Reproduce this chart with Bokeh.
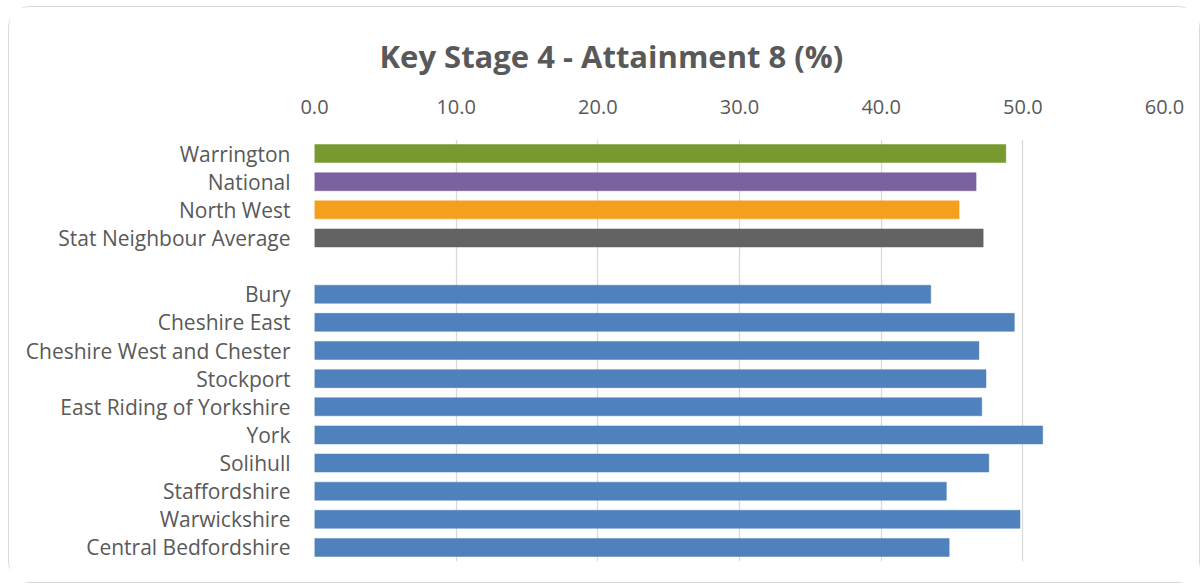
from bokeh.plotting import figure
from bokeh.models import FactorRange, FixedTicker, Title
from bokeh.embed import file_html
from bokeh.resources import INLINE

categories = ["Warrington", "National", "North West", "Stat Neighbour Average", " ",
              "Bury", "Cheshire East", "Cheshire West and Chester", "Stockport",
              "East Riding of Yorkshire", "York", "Solihull", "Staffordshire",
              "Warwickshire", "Central Bedfordshire"]
values = [48.8, 46.7, 45.5, 47.2, None,
          43.5, 49.4, 46.9, 47.4, 47.1, 51.4, 47.6, 44.6, 49.8, 44.8]
colors = ["#77992f", "#7a62a0", "#f5a01d", "#636366", "#ffffff",
          "#4f81bd", "#4f81bd", "#4f81bd", "#4f81bd", "#4f81bd",
          "#4f81bd", "#4f81bd", "#4f81bd", "#4f81bd", "#4f81bd"]
ticks = [0, 10, 20, 30, 40, 50, 60]
tick_labels = {0: "0.0", 10: "10.0", 20: "20.0", 30: "30.0", 40: "40.0", 50: "50.0", 60: "60.0"}

FONT = "Open Sans"

p = figure(width=1192, height=577, output_backend="svg", toolbar_location=None,
           y_range=FactorRange(*reversed(categories), range_padding=0),
           x_range=(0, 60), x_axis_location="above",
           min_border_left=305, min_border_right=37, min_border_top=132, min_border_bottom=23)
p.margin = (6, 0, 0, 8)
p.styles = {"border": "1.5px solid #d9d9d9", "border-radius": "22px"}

cats = [c for c, v in zip(categories, values) if v is not None]
vals = [v for v in values if v is not None]
cols = [c for c, v in zip(colors, values) if v is not None]
p.hbar(y=cats, right=vals, left=0, height=0.64, fill_color=cols,
       line_color=cols, line_alpha=0.5, line_width=1)

p.outline_line_color = None
p.ygrid.grid_line_color = None
p.xgrid.grid_line_color = "#d9d9d9"
p.xgrid.grid_line_width = 1.3
p.xgrid.ticker = FixedTicker(ticks=ticks)

p.xaxis.ticker = FixedTicker(ticks=ticks)
p.xaxis.major_label_overrides = tick_labels
p.xaxis.axis_line_color = None
p.xaxis.major_tick_line_color = None
p.xaxis.minor_tick_line_color = None
p.xaxis.major_label_text_font = FONT
p.xaxis.major_label_text_font_size = "20px"
p.xaxis.major_label_text_color = "#595959"
p.xaxis.major_label_standoff = 20

p.yaxis.axis_line_color = None
p.yaxis.major_tick_line_color = None
p.yaxis.minor_tick_line_color = None
p.yaxis.major_label_text_font = FONT
p.yaxis.major_label_text_font_size = "21px"
p.yaxis.major_label_text_color = "#595959"
p.yaxis.major_label_standoff = 18

p.title = Title(text="Key Stage 4 - Attainment 8 (%)", align="left",
                text_font=FONT, text_font_size="31px", text_font_style="bold",
                text_color="#595959", offset=65, standoff=39)

open("out.html", "w").write(file_html(p, INLINE))
